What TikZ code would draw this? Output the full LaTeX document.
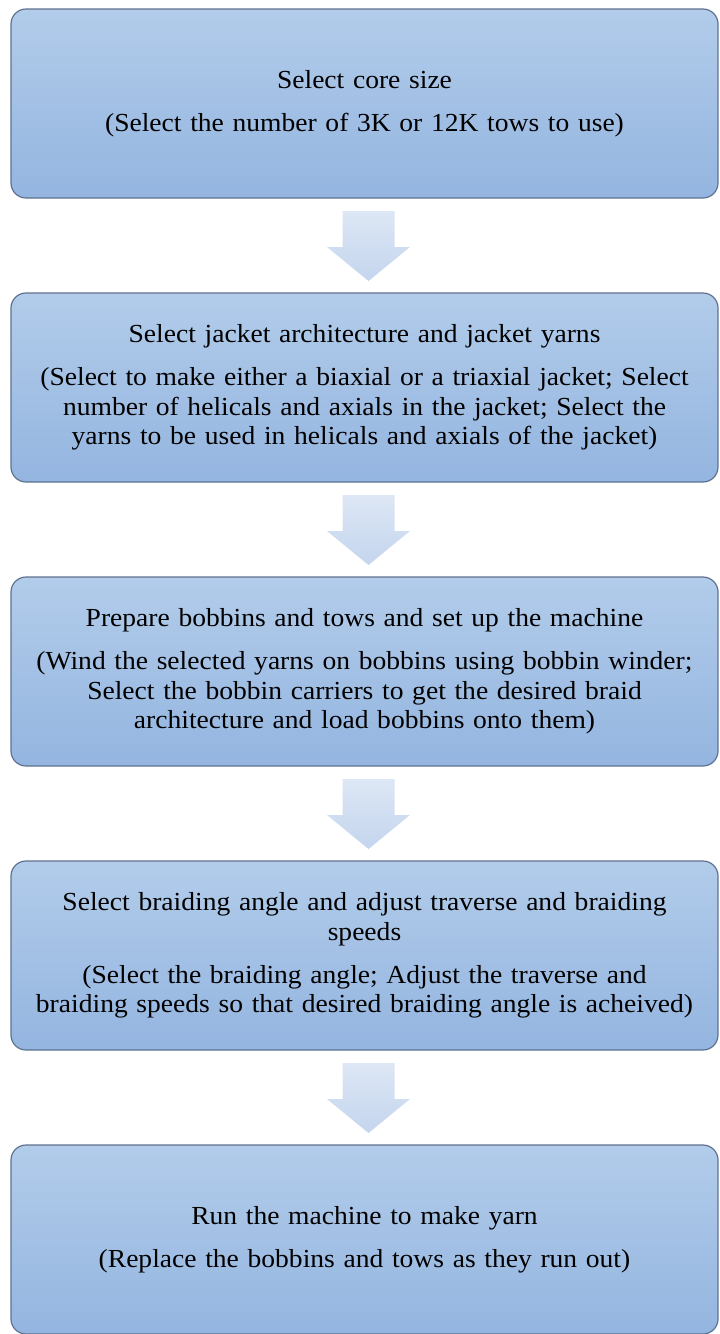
\documentclass[tikz,border=0pt]{standalone}
\usepackage{fontspec}
\setmainfont{Liberation Serif}[FakeStretch=1.06]
\usetikzlibrary{positioning, calc}
\definecolor{boxtop}{HTML}{B2CCEA}
\definecolor{boxbottom}{HTML}{94B5E0}
\definecolor{boxline}{HTML}{5E7290}
\definecolor{arrowtop}{HTML}{DDE7F5}
\definecolor{arrowbottom}{HTML}{C4D5EE}

\begin{document}
\begin{tikzpicture}[x=1pt,y=1pt,node distance=95pt,
    stage/.style={draw=boxline,line width=1.2pt,rounded corners=15pt,
        top color=boxtop,bottom color=boxbottom,
        minimum width=707pt,minimum height=189pt,text width=700pt,
        align=center,inner sep=0pt,outer sep=0pt,
        font=\fontsize{26}{29.5}\selectfont},
    flow/.style={top color=arrowtop,bottom color=arrowbottom}]
                \useasboundingbox (0,0) rectangle (720,-1334);
                \node[stage] (core) at (364.5,-103.5) {Select core size\\[13.5pt]
                    (Select the number of 3K or 12K tows to use)};
                \node[stage] (jacket) [below=of core] {Select jacket architecture and jacket yarns\\[13.5pt]
                    (Select to make either a biaxial or a triaxial jacket; Select\\
                    number of helicals and axials in the jacket; Select the\\
                    yarns to be used in helicals and axials of the jacket)};
                \node[stage] (bobbins) [below=of jacket] {Prepare bobbins and tows and set up the machine\\[13.5pt]
                    (Wind the selected yarns on bobbins using bobbin winder;\\
                    Select the bobbin carriers to get the desired braid\\
                    architecture and load bobbins onto them)};
                \node[stage] (angle) [below=of bobbins] {Select braiding angle and adjust traverse and braiding\\
                    speeds\\[13.5pt]
                    (Select the braiding angle; Adjust the traverse and\\
                    braiding speeds so that desired braiding angle is acheived)};
                \node[stage] (run) [below=of angle] {Run the machine to make yarn\\[13.5pt]
                    (Replace the bobbins and tows as they run out)};
                \foreach \a/\b in {core/jacket, jacket/bobbins, bobbins/angle, angle/run}
                    \shade[flow] ($(\a.south)+(-22,-13)$) -- ($(\a.south)+(30,-13)$)
                        -- ($(\a.south)+(30,-49)$) -- ($(\a.south)+(45.5,-49)$)
                        -- ($(\b.north)+(4,12)$)
                        -- ($(\a.south)+(-37.5,-49)$) -- ($(\a.south)+(-22,-49)$) -- cycle;
            \end{tikzpicture}
\end{document}
